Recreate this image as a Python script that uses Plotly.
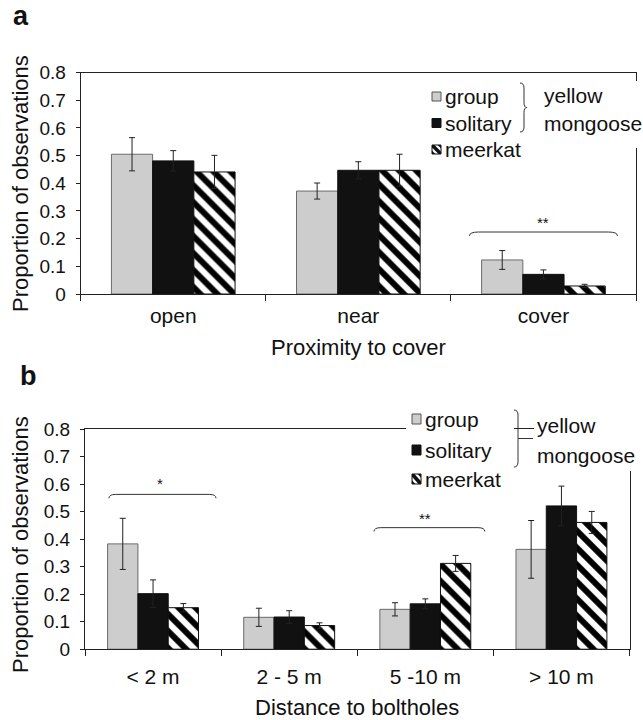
import plotly.graph_objects as go

# ---------------- data ----------------
series_names = ["group", "solitary", "meerkat"]

cats_a = ["open", "near", "cover"]
group_a = [0.505, 0.372, 0.123]
group_a_err = [0.060, 0.029, 0.034]
solitary_a = [0.481, 0.447, 0.071]
solitary_a_err = [0.037, 0.031, 0.016]
meerkat_a = [0.441, 0.447, 0.029]
meerkat_a_err = [0.060, 0.058, 0.006]

cats_b = ["< 2 m", "2 - 5 m", "5 -10 m", "> 10 m"]
group_b = [0.383, 0.116, 0.145, 0.363]
group_b_err = [0.093, 0.033, 0.024, 0.105]
solitary_b = [0.202, 0.117, 0.165, 0.521]
solitary_b_err = [0.050, 0.023, 0.018, 0.072]
meerkat_b = [0.151, 0.086, 0.312, 0.461]
meerkat_b_err = [0.015, 0.010, 0.029, 0.040]

y_ticks = [0, 0.1, 0.2, 0.3, 0.4, 0.5, 0.6, 0.7, 0.8]

# significance brackets: (category index, left offset, right offset, y, label, label x offset, label y)
sig_a = [(2, -0.40, 0.40, 0.224, "**", 0.0, 0.257)]
sig_b = [(0, -0.324, 0.4625, 0.563, "*", 0.05, 0.603),
         (2, -0.377, 0.437, 0.442, "**", 0.0, 0.474)]

# ---------------- style ----------------
W, H = 643, 720
FONT = "Liberation Sans, Arial, sans-serif"
GREY = "#cdcdcd"
BLACK = "#111111"
LINE = "#222222"


def px(x):
    return x / W


def py(y):
    return 1 - y / H


fig = go.Figure()

styles = [
    dict(color=GREY, line=dict(color="#6a6a6a", width=1)),
    dict(color=BLACK, line=dict(color=BLACK, width=1)),
    dict(color="white", line=dict(color=BLACK, width=1),
         pattern=dict(shape="\\", fgcolor="#000000", fgopacity=1, bgcolor="white",
                      size=12, solidity=0.5, fillmode="replace")),
]


def add_panel(cats, vals, errs, xa, ya):
    xs = list(range(len(cats)))
    for name, v, e, st in zip(series_names, vals, errs, styles):
        fig.add_trace(go.Bar(
            x=xs, y=v, name=name, marker=st, showlegend=False,
            xaxis=xa, yaxis=ya, offsetgroup=name,
            error_y=dict(type="data", array=e, visible=True, color=LINE, thickness=1, width=3),
        ))


add_panel(cats_a, [group_a, solitary_a, meerkat_a], [group_a_err, solitary_a_err, meerkat_a_err], "x", "y")
add_panel(cats_b, [group_b, solitary_b, meerkat_b], [group_b_err, solitary_b_err, meerkat_b_err], "x2", "y2")

dom_a_x = [px(80.7), px(636)]
dom_a_y = [py(294), py(72.6)]
dom_b_x = [px(85), px(629.5)]
dom_b_y = [py(649.2), py(429.2)]


def xaxis(cats, domain, anchor, standoff):
    n = len(cats)
    return dict(
        domain=domain, anchor=anchor, range=[-0.5, n - 0.5], type="linear",
        tickmode="array", tickvals=list(range(n)), ticktext=cats, ticks="",
        showline=True, linecolor=LINE, linewidth=1, mirror=True,
        showgrid=False, zeroline=False, automargin=False,
        tickfont=dict(family=FONT, size=21, color="#111"),
        minor=dict(tickmode="linear", tick0=-0.5, dtick=1, ticks="outside", ticklen=6,
                   tickcolor=LINE, tickwidth=1, showgrid=False),
        ticklabelstandoff=standoff,
    )


def yaxis(domain, anchor):
    return dict(
        domain=domain, anchor=anchor, range=[0, 0.8],
        tickmode="array", tickvals=y_ticks, ticktext=[("%g" % t) for t in y_ticks],
        ticks="outside", ticklen=4, tickcolor=LINE, tickwidth=1,
        showline=True, linecolor=LINE, linewidth=1, mirror=True,
        showgrid=False, zeroline=False, automargin=False,
        tickfont=dict(family=FONT, size=19, color="#111"),
        ticklabelstandoff=6,
    )


fig.update_layout(
    width=W, height=H, margin=dict(l=0, r=0, t=0, b=0),
    paper_bgcolor="white", plot_bgcolor="white",
    barmode="group", bargap=0.332, bargroupgap=0,
    font=dict(family=FONT, color="#111"),
    xaxis=xaxis(cats_a, dom_a_x, "y", 3),
    yaxis=yaxis(dom_a_y, "x"),
    xaxis2=xaxis(cats_b, dom_b_x, "y2", 9),
    yaxis2=yaxis(dom_b_y, "x2"),
)

shapes = []
annotations = []


def ann(x, y, text, size, xanchor="center", yanchor="middle", **kw):
    d = dict(x=x, y=y, xref="paper", yref="paper", text=text, showarrow=False,
             xanchor=xanchor, yanchor=yanchor, font=dict(family=FONT, size=size, color="#111"))
    d.update(kw)
    annotations.append(d)


def brace(xref, yref, sigs):
    for (ci, lo, hi, yv, lab, lx, ly) in sigs:
        xl, xr = ci + lo, ci + hi
        h, dx = 0.014, 0.05
        path = (f"M {xl},{yv - h} Q {xl},{yv} {xl + dx},{yv} L {xr - dx},{yv} "
                f"Q {xr},{yv} {xr},{yv - h}")
        shapes.append(dict(type="path", path=path, xref=xref, yref=yref,
                           line=dict(color="#333", width=1), layer="above"))
        annotations.append(dict(x=ci + lx, y=ly, xref=xref, yref=yref, text=lab, showarrow=False,
                                xanchor="center", yanchor="middle",
                                font=dict(family=FONT, size=15, color="#111")))


brace("x", "y", sig_a)
brace("x2", "y2", sig_b)


def white_rect(x0, y0, x1, y1):
    shapes.append(dict(type="rect", xref="paper", yref="paper", x0=px(x0), x1=px(x1),
                       y0=py(y1), y1=py(y0), fillcolor="white", line=dict(width=0), layer="above"))


def swatch(kind, x0, yc, w, h):
    y0, y1 = yc - h / 2, yc + h / 2
    if kind == 0:
        shapes.append(dict(type="rect", xref="paper", yref="paper", x0=px(x0), x1=px(x0 + w),
                           y0=py(y1), y1=py(y0), fillcolor=GREY, line=dict(color="#555", width=1),
                           layer="above"))
    elif kind == 1:
        shapes.append(dict(type="rect", xref="paper", yref="paper", x0=px(x0), x1=px(x0 + w),
                           y0=py(y1), y1=py(y0), fillcolor=BLACK, line=dict(color=BLACK, width=1),
                           layer="above"))
    else:
        shapes.append(dict(type="rect", xref="paper", yref="paper", x0=px(x0), x1=px(x0 + w),
                           y0=py(y1), y1=py(y0), fillcolor="white", line=dict(color=BLACK, width=1),
                           layer="above"))
        t = 0.28
        band = (f"M {px(x0)},{py(y0)} L {px(x0 + w * t)},{py(y0)} L {px(x0 + w)},{py(y1 - h * t)} "
                f"L {px(x0 + w)},{py(y1)} L {px(x0 + w * (1 - t))},{py(y1)} L {px(x0)},{py(y0 + h * t)} Z")
        shapes.append(dict(type="path", path=band, xref="paper", yref="paper",
                           fillcolor=BLACK, line=dict(width=0), layer="above"))
        tr1 = (f"M {px(x0 + w * 0.62)},{py(y0)} L {px(x0 + w)},{py(y0)} L {px(x0 + w)},{py(y0 + h * 0.38)} Z")
        tr2 = (f"M {px(x0)},{py(y1 - h * 0.38)} L {px(x0)},{py(y1)} L {px(x0 + w * 0.38)},{py(y1)} Z")
        for p in (tr1, tr2):
            shapes.append(dict(type="path", path=p, xref="paper", yref="paper",
                               fillcolor=BLACK, line=dict(width=0), layer="above"))


def vbrace(x0, ytop, ybot, xtip, stem_to=None):
    ym = (ytop + ybot) / 2
    xr = x0 + 4
    r = 5
    path = (f"M {px(x0)},{py(ytop)} Q {px(xr)},{py(ytop)} {px(xr)},{py(ytop + r)} "
            f"L {px(xr)},{py(ym - r)} Q {px(xr)},{py(ym)} {px(xtip)},{py(ym)} "
            f"Q {px(xr)},{py(ym)} {px(xr)},{py(ym + r)} "
            f"L {px(xr)},{py(ybot - r)} Q {px(xr)},{py(ybot)} {px(x0)},{py(ybot)}")
    shapes.append(dict(type="path", path=path, xref="paper", yref="paper",
                       line=dict(color="#333", width=1), layer="above"))
    if stem_to is not None:
        shapes.append(dict(type="line", xref="paper", yref="paper", x0=px(xtip), x1=px(stem_to),
                           y0=py(ym), y1=py(ym), line=dict(color="#333", width=1), layer="above"))


def legend(sw_x, rows, sw_w, sw_h, brace_x, brace_top, brace_bot, brace_tip, lab_x, lab_y,
           stem_to=None, size=21):
    for i, (name, yc) in enumerate(zip(series_names, rows)):
        swatch(i, sw_x, yc, sw_w, sw_h)
        ann(px(sw_x + sw_w + 2), py(yc), name, size, xanchor="left")
    vbrace(brace_x, brace_top, brace_bot, brace_tip, stem_to)
    for t, yy in zip(["yellow", "mongoose"], lab_y):
        ann(px(lab_x), py(yy), t, size, xanchor="left")


# panel a legend
white_rect(535, 81, 643, 148)
legend(432, [96.5, 123, 149.5], 9, 9, 520, 83, 132, 527, 542, [96, 123])

# panel b legend
white_rect(406, 403, 514, 495)
white_rect(534, 403, 643, 471)
legend(412, [419, 450, 479], 9, 10, 514, 410, 467, 518, 535, [425, 455], stem_to=533)

# axis titles & panel letters
ann(px(358), py(347), "Proximity to cover", 22)
ann(px(357), py(707), "Distance to boltholes", 22)
ann(px(20), py(184), "Proportion of observations", 22, textangle=-90)
ann(px(20), py(545), "Proportion of observations", 22, textangle=-90)
ann(px(21), py(16), "<b>a</b>", 27)
ann(px(28), py(376), "<b>b</b>", 27)

fig.update_layout(shapes=shapes, annotations=annotations)
fig.write_html("out.html", config={"displayModeBar": False},
               post_script="document.body.style.margin='0px';document.body.style.padding='0px';")
